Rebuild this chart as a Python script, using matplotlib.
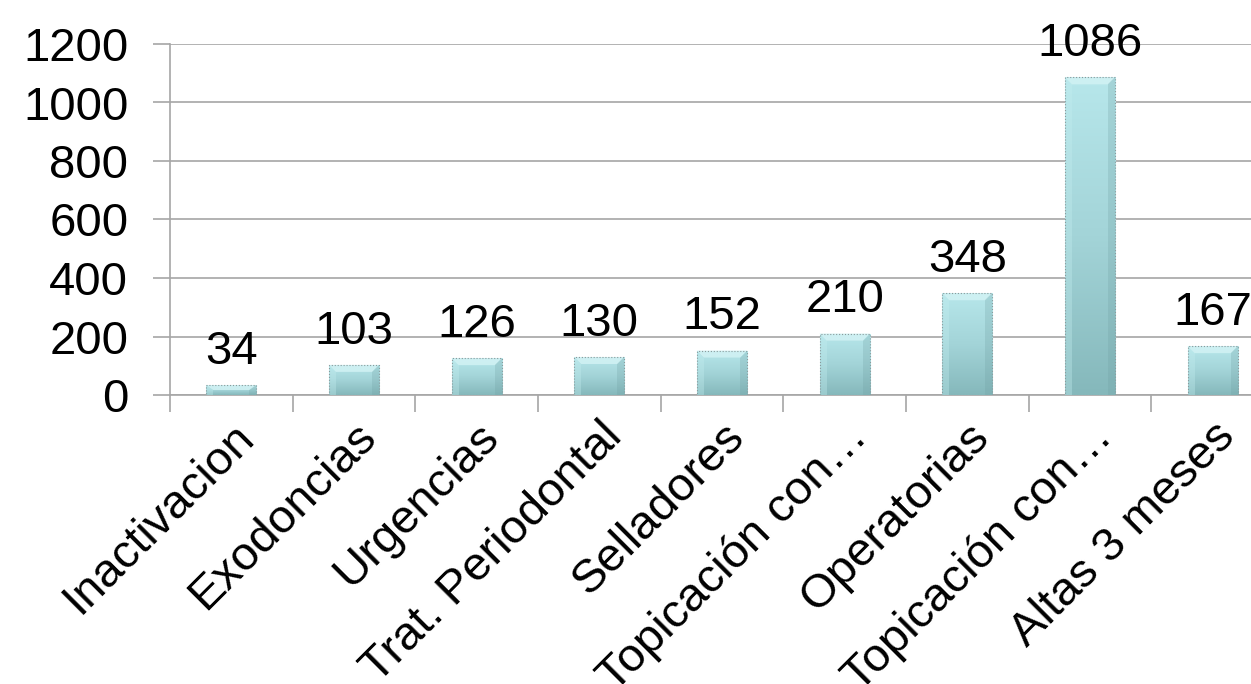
import matplotlib
matplotlib.use("Agg")
import matplotlib.pyplot as plt
import matplotlib.transforms as mtransforms
import numpy as np
from matplotlib.colors import LinearSegmentedColormap
from matplotlib.patches import Polygon

categories = ["Inactivacion", "Exodoncias", "Urgencias", "Trat. Periodontal",
              "Selladores", "Topicación con…", "Operatorias", "Topicación con…",
              "Altas 3 meses"]
values = [34, 103, 126, 130, 152, 210, 348, 1086, 167]
yticks = [0, 200, 400, 600, 800, 1000, 1200]

plt.rcParams['font.family'] = ['Liberation Sans', 'DejaVu Sans']
FS = 34

fig = plt.figure(figsize=(12.51, 6.84), dpi=100)
ax = fig.add_axes([170/1251, 289/684, 1104/1251, 351/684])

x = np.arange(len(categories))
bars = ax.bar(x, values, width=0.41, color='none', edgecolor='none', zorder=3)

ax.set_xlim(-0.5, len(categories) - 0.5)
ax.set_ylim(0, 1200)

cmap = LinearSegmentedColormap.from_list('g', ['#85b8bb', '#a3d4d8', '#b7e7eb'])
grad = np.linspace(0, 1, 256).reshape(-1, 1)
# bevel size in data units (~7 px)
bx = 7 / 122.7
by = 7 * 1200 / 351
for b in bars:
    x0, y0 = b.get_x(), b.get_y()
    w, h = b.get_width(), b.get_height()
    im = ax.imshow(grad, cmap=cmap, aspect='auto', origin='lower',
                   extent=[x0, x0 + w, y0, y0 + h], zorder=3)
    im.set_clip_path(b)
    d = min(by, h / 2)
    ax.add_patch(Polygon([(x0, y0 + h), (x0 + w, y0 + h), (x0 + w - bx, y0 + h - d),
                          (x0 + bx, y0 + h - d)], closed=True, fc='#d2f2f4',
                         ec='none', alpha=0.85, zorder=3.5))
    ax.add_patch(Polygon([(x0 + w, y0 + h), (x0 + w, y0), (x0 + w - bx, y0),
                          (x0 + w - bx, y0 + h - d)], closed=True, fc='#6f9ea1',
                         ec='none', alpha=0.25, zorder=3.5))
    ax.add_patch(Polygon([(x0, y0 + h), (x0, y0), (x0 + bx, y0),
                          (x0 + bx, y0 + h - d)], closed=True, fc='#c4eef0',
                         ec='none', alpha=0.35, zorder=3.5))
    ax.add_patch(plt.Rectangle((x0, y0), w, h, fill=False, edgecolor='#8a9a9c',
                               lw=0.8, ls=':', zorder=4))
    ax.annotate(f"{int(h)}", (x0 + w / 2, y0 + h), xytext=(0, 8),
                textcoords='offset points', ha='center', va='bottom',
                fontsize=FS, color='black', zorder=5)

ax.set_yticks(yticks)
ax.set_yticklabels([str(t) for t in yticks], fontsize=FS)
ax.yaxis.grid(True, color='#a6a6a6', lw=1.2, zorder=0)
ax.set_axisbelow(True)

ax.set_xticks(x)
ax.set_xticklabels(categories, fontsize=FS, rotation=45, ha='right',
                   rotation_mode='anchor')
shift = mtransforms.ScaledTranslation(-8 / 100, 0, fig.dpi_scale_trans)
for lbl in ax.get_xticklabels():
    lbl.set_transform(lbl.get_transform() + shift)
ax.set_xticks(np.arange(len(categories) + 1) - 0.5, minor=True)
ax.tick_params(axis='x', which='major', length=0, pad=14)
ax.tick_params(axis='x', which='minor', length=12, color='#a6a6a6', width=1.2)
ax.tick_params(axis='y', length=12, color='#a6a6a6', width=1.2, pad=18)

for s in ['top', 'right']:
    ax.spines[s].set_visible(False)
for s in ['left', 'bottom']:
    ax.spines[s].set_color('#a6a6a6')
    ax.spines[s].set_linewidth(1.2)

fig.savefig('out.png', dpi=100)
